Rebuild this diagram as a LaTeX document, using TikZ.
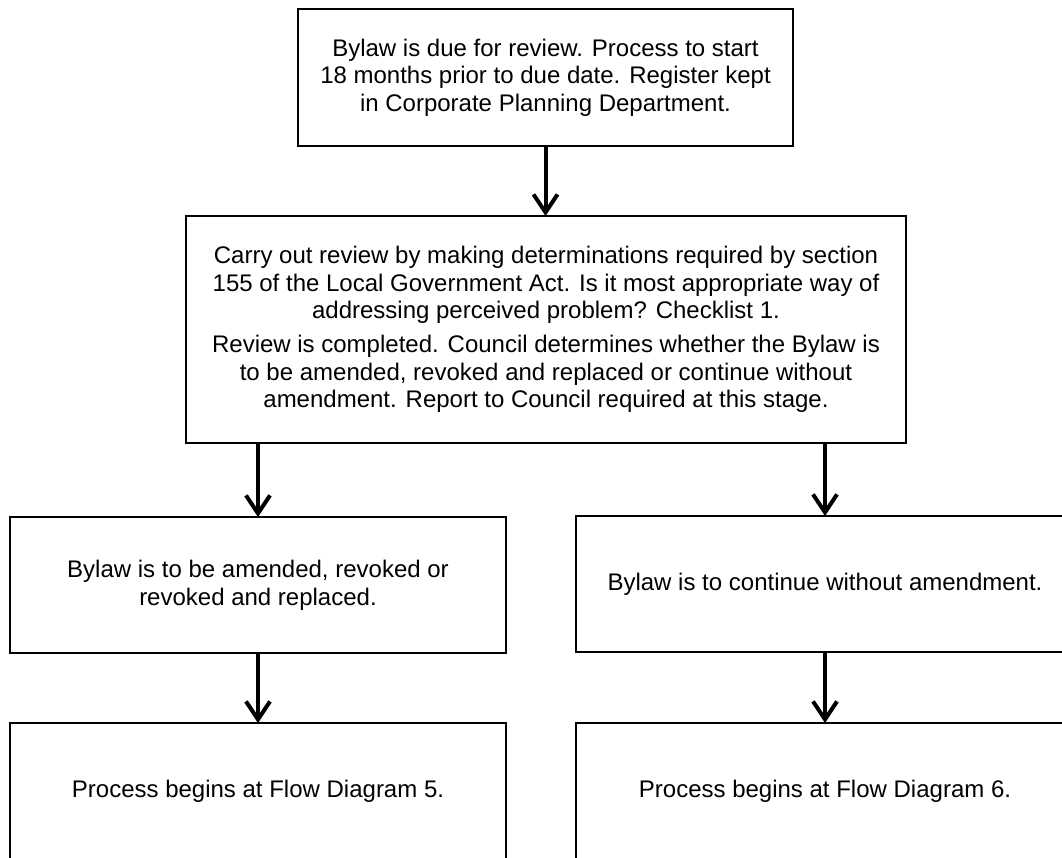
\documentclass[tikz,border=0pt]{standalone}
\usepackage{fontspec}
\setmainfont{Liberation Sans}
\usetikzlibrary{arrows.meta}

\begin{document}
\begin{tikzpicture}[x=1pt, y=-1pt,
  every node/.style={font=\fontsize{24}{27.6}\selectfont},
  flowbox/.style={draw=black, line width=1.2pt, rectangle, align=center,
    inner sep=0pt, outer sep=0pt},
  flowarrow/.style={line width=4pt, line join=miter,
    -{Straight Barb[length=18pt, width=24pt]}}
]
\useasboundingbox (0,0) rectangle (1062,857);

% first step
\node[flowbox, minimum width=495pt, minimum height=137pt] (due) at (545.5,77.5)
  {Bylaw is due for review. Process to start\\
   18 months prior to due date. Register kept\\
   in Corporate Planning Department.};

% review step
\node[flowbox, minimum width=720pt, minimum height=227pt] (review) at (546,329.5)
  {Carry out review by making determinations required by section\\
   155 of the Local Government Act. Is it most appropriate way of\\
   addressing perceived problem? Checklist 1.\\[6pt]
   Review is completed. Council determines whether the Bylaw is\\
   to be amended, revoked and replaced or continue without\\
   amendment. Report to Council required at this stage.};

% outcomes
\node[flowbox, minimum width=496pt, minimum height=136pt] (amend) at (258,585)
  {Bylaw is to be amended, revoked or\\ revoked and replaced.};
\node[flowbox, minimum width=498pt, minimum height=136pt] (keep) at (825,584)
  {Bylaw is to continue without amendment.};

% follow-on processes
\node[flowbox, minimum width=496pt, minimum height=137pt] (fd5) at (258,791.5)
  {Process begins at Flow Diagram 5.};
\node[flowbox, minimum width=498pt, minimum height=137pt] (fd6) at (825,791.5)
  {Process begins at Flow Diagram 6.};

% connectors
\draw[flowarrow] (due.south) -- (due.south |- review.north);
\draw[flowarrow] (review.south -| amend.north) -- (amend.north);
\draw[flowarrow] (review.south -| keep.north) -- (keep.north);
\draw[flowarrow] (amend.south) -- (fd5.north);
\draw[flowarrow] (keep.south) -- (fd6.north);
\end{tikzpicture}
\end{document}
